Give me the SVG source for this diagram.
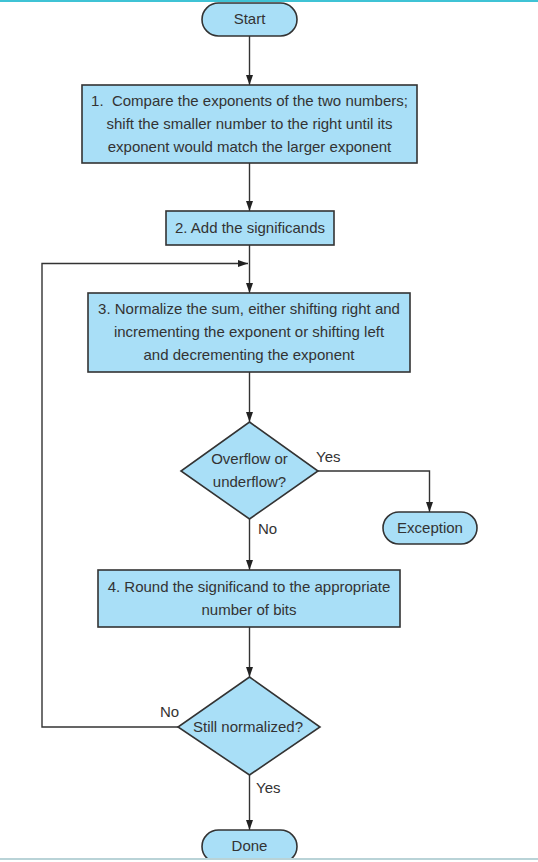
<svg xmlns="http://www.w3.org/2000/svg" width="538" height="862" viewBox="0 0 538 862">
<defs>
<marker id="arr" viewBox="0 0 10 10" refX="10" refY="5" markerWidth="10" markerHeight="10" markerUnits="userSpaceOnUse" orient="auto">
<path d="M0,1.5 L10,5 L0,8.5 Z" fill="#222"/>
</marker>
<style>
.n{fill:#a9dff7;stroke:#333;stroke-width:1.6}
.t{font-family:"Liberation Sans",Arial,sans-serif;font-size:15px;fill:#333;text-anchor:middle}
.l{font-family:"Liberation Sans",Arial,sans-serif;font-size:15px;fill:#333}
.c{fill:none;stroke:#333;stroke-width:1.4}
</style>
</defs>
<rect x="0" y="0" width="538" height="862" fill="#fff"/>
<rect x="0" y="0" width="538" height="2" fill="#3fc3d5"/>
<g id="connectors">
<path class="c" d="M249.5,36 V85" marker-end="url(#arr)"/>
<path class="c" d="M249.5,163 V211" marker-end="url(#arr)"/>
<path class="c" d="M249.5,245 V293" marker-end="url(#arr)"/>
<path class="c" d="M249.5,372 V422" marker-end="url(#arr)"/>
<path class="c" d="M318,471 H429.5 V512" marker-end="url(#arr)"/>
<path class="c" d="M249.5,519 V570" marker-end="url(#arr)"/>
<path class="c" d="M249.5,627 V677" marker-end="url(#arr)"/>
<path class="c" d="M178,727 H42 V263.5 H248" marker-end="url(#arr)"/>
<path class="c" d="M249.5,775 V830" marker-end="url(#arr)"/>
</g>
<g id="start">
<rect class="n" x="202" y="3" width="95" height="33" rx="16.5"/>
<text class="t" x="249.5" y="24">Start</text>
</g>
<g id="step1">
<rect class="n" x="82" y="85" width="335" height="78"/>
<text class="t" x="249.5" y="106" xml:space="preserve">1.  Compare the exponents of the two numbers;</text>
<text class="t" x="249.5" y="129">shift the smaller number to the right until its</text>
<text class="t" x="249.5" y="152">exponent would match the larger exponent</text>
</g>
<g id="step2">
<rect class="n" x="166" y="211" width="168" height="34"/>
<text class="t" x="250" y="233">2. Add the significands</text>
</g>
<g id="step3">
<rect class="n" x="88" y="293" width="322" height="79"/>
<text class="t" x="249" y="314">3. Normalize the sum, either shifting right and</text>
<text class="t" x="249" y="337">incrementing the exponent or shifting left</text>
<text class="t" x="249" y="360">and decrementing the exponent</text>
</g>
<g id="overflow">
<polygon class="n" points="249.5,422 318,471 249.5,519 181,471"/>
<text class="t" x="249.5" y="464">Overflow or</text>
<text class="t" x="249.5" y="487">underflow?</text>
<text class="l" x="316" y="462">Yes</text>
<text class="l" x="258" y="534">No</text>
</g>
<g id="exception">
<rect class="n" x="383" y="512" width="94" height="32" rx="16"/>
<text class="t" x="430" y="533">Exception</text>
</g>
<g id="step4">
<rect class="n" x="98" y="570" width="302" height="57"/>
<text class="t" x="249" y="592">4. Round the significand to the appropriate</text>
<text class="t" x="249" y="615">number of bits</text>
</g>
<g id="normalized">
<polygon class="n" points="249.5,677 320,727 249.5,775 178,727"/>
<text class="t" x="248" y="732">Still normalized?</text>
<text class="l" x="160" y="717">No</text>
<text class="l" x="256" y="793">Yes</text>
</g>
<g id="done">
<rect class="n" x="202" y="830" width="95" height="33" rx="16.5"/>
<text class="t" x="249.5" y="851">Done</text>
</g>
<rect x="0" y="858" width="538" height="2" fill="#b9d3d7"/>
<rect x="0" y="860" width="538" height="2" fill="#fff"/>
</svg>
